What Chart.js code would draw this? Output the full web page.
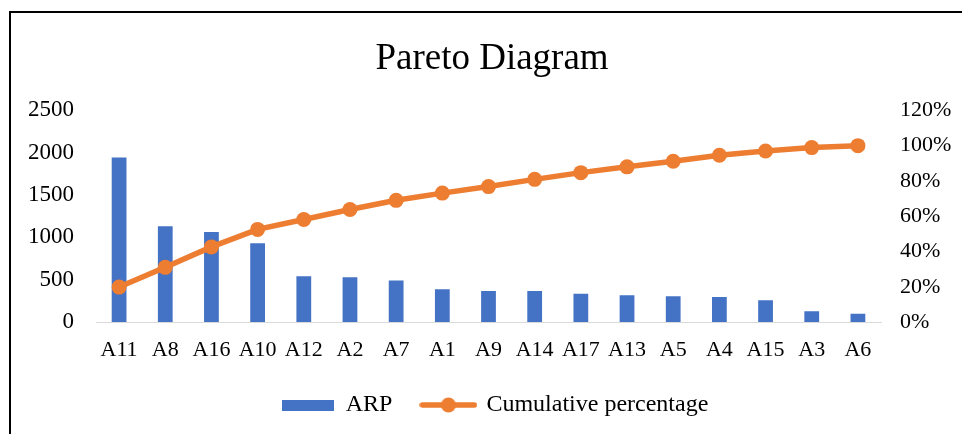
<!DOCTYPE html>
<html lang="en">
<head>
  <meta charset="UTF-8">
  <title>Pareto Diagram</title>
  <script src="https://cdn.jsdelivr.net/npm/chart.js"></script>
  <style>
    body { margin: 0; background: #fff; }
    .wrap { position: relative; width: 962px; height: 434px; overflow: hidden; }
    /* the chart frame, runs off the right and bottom edges */
    .frame {
      position: absolute; left: 9px; top: 11px;
      width: 1000px; height: 500px;
      border-left: 2px solid #000; border-top: 2px solid #000;
    }
    canvas { position: absolute; left: 0; top: 0; }
  </style>
</head>
<body>
  <div class="wrap">
    <div class="frame"></div>
    <canvas id="pareto" width="962" height="434"></canvas>
  </div>

  <script>
    const categories = ['A11', 'A8', 'A16', 'A10', 'A12', 'A2', 'A7', 'A1', 'A9', 'A14', 'A17', 'A13', 'A5', 'A4', 'A15', 'A3', 'A6'];
    const arpValues = [1945, 1130, 1063, 931, 541, 529, 491, 386, 366, 366, 335, 315, 304, 296, 257, 128, 97];
    const cumulativePct = [0.198, 0.31, 0.426, 0.525, 0.581, 0.638, 0.69, 0.731, 0.768, 0.809, 0.847, 0.88, 0.912, 0.946, 0.97, 0.989, 1.0];
    const leftTicks = [0, 500, 1000, 1500, 2000, 2500];
    const rightTicks = [0, 0.2, 0.4, 0.6, 0.8, 1.0, 1.2];

    const blue = '#4472C4';
    const orange = '#ED7D31';
    const serif = 'Liberation Serif, Times New Roman, serif';

    // legend swatches drawn as little canvases
    function barSwatch() {
      const c = document.createElement('canvas');
      c.width = 52; c.height = 11;
      const g = c.getContext('2d');
      g.fillStyle = blue;
      g.fillRect(0, 0, 52, 11);
      return c;
    }
    function lineSwatch() {
      const c = document.createElement('canvas');
      c.width = 58; c.height = 16;
      const g = c.getContext('2d');
      g.strokeStyle = orange;
      g.lineWidth = 5.5;
      g.lineCap = 'round';
      g.beginPath(); g.moveTo(3, 8); g.lineTo(55, 8); g.stroke();
      g.fillStyle = orange;
      g.beginPath(); g.arc(29, 8, 7.5, 0, Math.PI * 2); g.fill();
      return c;
    }

    // move the title and legend boxes a little, like the original
    const boxShift = {
      id: 'boxShift',
      afterLayout(chart) {
        const lg = chart.legend;
        lg.left += 14; lg.right += 14;
        lg.top += 1; lg.bottom += 1;
        const tb = chart.titleBlock;
        tb.left += 11; tb.right += 11;
      }
    };

    new Chart(document.getElementById('pareto'), {
      data: {
        labels: categories,
        datasets: [
          {
            type: 'line',
            label: 'Cumulative percentage',
            data: cumulativePct,
            yAxisID: 'y1',
            borderColor: orange,
            backgroundColor: orange,
            borderWidth: 5.5,
            pointRadius: 7.5,
            pointBackgroundColor: orange,
            pointBorderWidth: 0,
            tension: 0,
            order: 0
          },
          {
            type: 'bar',
            label: 'ARP',
            data: arpValues,
            yAxisID: 'y',
            backgroundColor: blue,
            barPercentage: 0.32,
            categoryPercentage: 1,
            order: 1
          }
        ]
      },
      plugins: [boxShift],
      options: {
        responsive: false,
        animation: false,
        layout: { padding: { left: 0, right: 0, top: 0, bottom: 8 } },
        plugins: {
          tooltip: { enabled: false },
          title: {
            display: true,
            text: 'Pareto Diagram',
            color: '#000',
            font: { family: serif, size: 37, weight: 'normal' },
            padding: { top: 37, bottom: 29 }
          },
          legend: {
            position: 'bottom',
            labels: {
              color: '#000',
              font: { family: serif, size: 24 },
              usePointStyle: true,
              pointStyleWidth: 52,
              padding: 30,
              generateLabels: () => [
                { text: 'ARP', pointStyle: barSwatch(), fillStyle: blue, strokeStyle: blue, lineWidth: 0, datasetIndex: 1 },
                { text: 'Cumulative percentage', pointStyle: lineSwatch(), fillStyle: orange, strokeStyle: orange, lineWidth: 0, datasetIndex: 0 }
              ]
            }
          }
        },
        scales: {
          x: {
            grid: { display: false },
            border: { color: '#d9d9d9', width: 1 },
            afterFit: s => { s.height = 40; },
            ticks: {
              color: '#000',
              font: { family: serif, size: 22 },
              maxRotation: 0,
              autoSkip: false,
              padding: 7
            }
          },
          y: {
            position: 'left',
            min: 0,
            max: 2500,
            grid: { display: false },
            border: { display: false },
            afterBuildTicks: s => { s.ticks = leftTicks.map(v => ({ value: v })); },
            afterFit: s => { s.width = 96; },
            ticks: {
              color: '#000',
              font: { family: serif, size: 23 },
              padding: 14,
              callback: v => String(v)
            }
          },
          y1: {
            position: 'right',
            min: 0,
            max: 1.2,
            grid: { display: false },
            border: { display: false },
            afterBuildTicks: s => { s.ticks = rightTicks.map(v => ({ value: v })); },
            afterFit: s => { s.width = 81; },
            ticks: {
              color: '#000',
              font: { family: serif, size: 22 },
              padding: 11,
              callback: v => Math.round(v * 100) + '%'
            }
          }
        }
      }
    });
  </script>
</body>
</html>
